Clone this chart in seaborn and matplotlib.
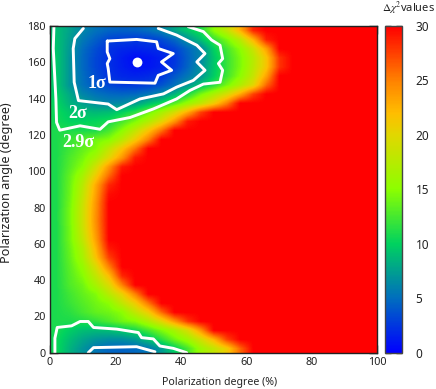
import numpy as np
import pandas as pd
import matplotlib
matplotlib.use("Agg")
import matplotlib.pyplot as plt
from matplotlib.colors import LinearSegmentedColormap
import seaborn as sns

# Delta chi^2 per angle bin (row) and polarization bin (column). Trailing bins are saturated.
SAT = 30
P_CENTRES = list(range(2, 100, 4))
A_CENTRES = [2.5 + 5 * i for i in range(36)]
a002 = [10.5, 8.5, 7, 5.5, 4.7, 4.5, 4.8, 5.5, 7.3, 9.8, 12.5, 16, 18.2, 21, 26]
a007 = [10.5, 9, 7.8, 7, 6.6, 6.6, 7.2, 9, 11.5, 14, 16, 19, 22.5, 27.5]
a012 = [10.8, 9.8, 9, 8.8, 9, 9.6, 10.7, 12.5, 14.5, 16.5, 19.4, 24]
a017 = [11, 11, 11.2, 11.8, 12.8, 14, 14.8, 17, 20, 24, 28]
a022 = [11, 11.5, 12.5, 13.5, 14, 15, 18, 21, 26]
a027 = [11, 12, 13, 14, 15, 18, 21, 25.5]
a032 = [11, 12.3, 13.5, 14.6, 17.5, 20.5, 25]
a037 = [11, 12.8, 14, 16.5, 19.6, 25]
a042 = [11, 13, 14.8, 18, 22, 28.5]
a047 = [11, 13.2, 15.5, 19.5, 25]
a052 = [11, 13.5, 16.5, 21.5, 27.5]
a057 = [11, 13.7, 17, 22.5, 29]
a062 = [11, 14, 18, 23.5]
a067 = [11, 14, 18.5, 24]
a072 = [11, 14.2, 18.7, 24.3]
a077 = [11, 14.2, 18.7, 24.2]
a082 = [11, 14, 18.5, 24]
a087 = [11, 13.8, 18, 23.5, 29.5]
a092 = [11, 13.7, 17.5, 23, 28.5]
a097 = [11, 13.5, 16.5, 21, 26]
a102 = [11, 13, 15, 19, 24, 29]
a107 = [11, 12.7, 14.2, 16.5, 20, 24, 29]
a112 = [11, 12.2, 13.5, 14.7, 18, 21.5, 25.5]
a117 = [11, 12, 13, 14, 14.8, 17.5, 21, 25]
a122 = [11, 11, 11, 11, 12.5, 15, 18, 21.5, 25.5]
a127 = [10.6, 10, 10, 10.3, 10.8, 12.5, 14.5, 17, 20, 24, 29]
a132 = [10.5, 9.5, 9, 8.8, 9, 10, 11.5, 13.8, 16.5, 19.3, 23, 27.5]
a137 = [10.2, 8.5, 7.5, 6.6, 6.2, 6.5, 7.3, 9, 10.5, 13, 15.7, 18, 21, 25]
a142 = [9.8, 8, 6.2, 5.3, 4.8, 4.6, 4.8, 5.4, 6.5, 8.5, 11, 14.3, 16.8, 19.4, 23, 27.5]
a147 = [9.5, 7, 5.2, 4, 3.2, 2.7, 2.6, 3, 3.8, 5.2, 7, 9.3, 11.5, 14.2, 17, 20, 26]
a152 = [9.5, 7, 5, 3.5, 2.3, 1.8, 1.6, 1.9, 2.4, 4, 5.5, 7, 9.8, 12.3, 15, 18.3, 23.3]
a157 = [9.5, 7, 4.8, 3.2, 2.2, 1.4, 0.8, 1, 1.6, 2.6, 4.6, 6.8, 9.5, 12, 14.4, 17.6, 21.5, 28]
a162 = [9.5, 7, 4.8, 3.2, 2.2, 1.3, 0.6, 0.9, 1.5, 2.4, 4.4, 6.3, 9.4, 12, 14.4, 17.4, 21.5, 28]
a167 = [9.3, 7.2, 5, 3.5, 2.3, 1.8, 1.6, 1.8, 2.1, 3, 4.7, 6.2, 10, 12.5, 15, 18.6, 23.5]
a172 = [9.2, 7.4, 5.6, 4.3, 3.1, 2.8, 2.6, 2.8, 3.4, 4.7, 6.8, 9, 11.8, 14.3, 17.5, 22.5, 28.8]
a177 = [9, 7.7, 6.2, 5.2, 4.6, 4.4, 4.5, 5, 6, 7.8, 9.5, 11, 15, 18, 22.5, 28.5]
ROWS = [a002, a007, a012, a017, a022, a027, a032, a037, a042, a047, a052, a057,
        a062, a067, a072, a077, a082, a087, a092, a097, a102, a107, a112, a117,
        a122, a127, a132, a137, a142, a147, a152, a157, a162, a167, a172, a177]

# Confidence contours (polarization %, angle in degrees)
sig29_top_p = [42.3, 46.9, 49.4, 52, 52.8, 51.5, 52.8, 52, 46.9, 42.8, 38.7, 31.6, 24.5, 17.8, 15.3, 9.2, 3, 2, 1.8, 1, 1.2]
sig29_top_a = [179.6, 176.9, 172.3, 169.4, 162, 159.3, 155.6, 149, 148, 144.5, 139.8, 134.3, 129.6, 127.2, 123.1, 125, 122.6, 126.9, 139.8, 167.6, 179.6]
sig2_top_p = [10.2, 7.6, 7.1, 7.4, 8.7, 17.8, 20.4, 27.5, 34.7, 38.7, 43.8, 47.4, 44.9, 47.4, 44.9, 38.7, 33.1]
sig2_top_a = [178.7, 173.1, 167.6, 149, 138.9, 137, 133.9, 139.8, 142.6, 146.3, 150, 155.6, 160.2, 164.8, 169.4, 175, 178.7]
sig1_p = [17.5, 26.5, 32.6, 33.1, 37.7, 34.1, 37.2, 33.1, 32.1, 18.3, 17.8, 17.5, 18.3, 17.5, 17.5]
sig1_a = [171.7, 172.6, 171.3, 167.6, 164.8, 160.2, 155.6, 152.8, 148.5, 149.1, 156.5, 159.3, 162, 165.7, 171.7]
sig29_low_p = [1.5, 1.5, 2.2, 6.6, 9.2, 11.7, 13.3, 20.4, 27, 28, 31.6, 33.6, 37.7, 41.8]
sig29_low_a = [0, 8, 13.9, 14.8, 17.2, 17.2, 13.9, 13, 11.1, 8.3, 7.6, 3.7, 2.4, 0]
sig2_low_p = [11.7, 13.3, 26.5, 32.1]
sig2_low_a = [0, 2.8, 3.3, 0.5]
best_p = [26.5]
best_a = [160]

P_TICKS = [0, 20, 40, 60, 80, 100]
A_TICKS = [0, 20, 40, 60, 80, 100, 120, 140, 160, 180]
CB_TICKS = [0, 5, 10, 15, 20, 25, 30]

sns.set_theme(style="white")
plt.rcParams["font.family"] = ["Noto Sans", "DejaVu Sans"]
plt.rcParams["mathtext.fontset"] = "stix"
INK = "#222222"
P_BIN, A_BIN = 4, 5

table = pd.DataFrame([r + [SAT] * (len(P_CENTRES) - len(r)) for r in ROWS],
                     index=A_CENTRES, columns=P_CENTRES)

cmap = LinearSegmentedColormap.from_list("chi", [
    (0 / 30, (0, 0, 1)),
    (5 / 30, (0, 110 / 255, 190 / 255)),
    (10 / 30, (0, 210 / 255, 95 / 255)),
    (15 / 30, (140 / 255, 1, 0)),
    (20 / 30, (225 / 255, 215 / 255, 0)),
    (22 / 30, (1, 190 / 255, 0)),
    (25 / 30, (1, 130 / 255, 0)),
    (30 / 30, (1, 0, 0)),
], N=256)

W, H = 436, 389
fig = plt.figure(figsize=(W / 100, H / 100), dpi=100)
ax = fig.add_axes([50 / W, 1 - 352.7 / H, 327 / W, 326.7 / H])
cax = fig.add_axes([385 / W, 1 - 352.7 / H, 16.7 / W, 326.7 / H])

sns.heatmap(table, cmap=cmap, vmin=0, vmax=30, ax=ax, cbar_ax=cax,
            xticklabels=False, yticklabels=False, cbar_kws={"ticks": CB_TICKS})
# Smooth the cells the way the reference's resampled bitmap is smoothed
ax.imshow(table.to_numpy(), cmap=cmap, vmin=0, vmax=30, origin="lower", aspect="auto",
          interpolation="bilinear", extent=(0, len(P_CENTRES), 0, len(A_CENTRES)), zorder=1.5)

def curve(p, a):
    sns.lineplot(x=np.array(p) / P_BIN, y=np.array(a) / A_BIN, sort=False, estimator=None,
                 color="white", linewidth=2.1, ax=ax, legend=False, zorder=3,
                 solid_capstyle="round", solid_joinstyle="round")

curve(sig29_top_p, sig29_top_a)
curve(sig2_top_p, sig2_top_a)
curve(sig1_p, sig1_a)
curve(sig29_low_p, sig29_low_a)
curve(sig2_low_p, sig2_low_a)
sns.scatterplot(x=np.array(best_p) / P_BIN, y=np.array(best_a) / A_BIN, color="white",
                s=50, linewidth=0, ax=ax, legend=False, zorder=5)

ax.set_ylim(0, len(A_CENTRES))
ax.set_xlim(0, len(P_CENTRES))

for s, xp, ya in [("1σ", 97, 83), ("2σ", 78, 113), ("2.9σ", 78, 142)]:
    fig.text(xp / W, 1 - ya / H, s, color="white", fontsize=13, ha="center", va="center",
             family="Liberation Serif", fontweight="bold")

ax.set_xticks(np.array(P_TICKS) / P_BIN, labels=[str(v) for v in P_TICKS])
ax.set_yticks(np.array(A_TICKS) / A_BIN, labels=[str(v) for v in A_TICKS], rotation=0)
ax.tick_params(direction="in", length=6, width=1, color=INK, labelcolor=INK, labelsize=7.8,
               top=True, right=True, bottom=True, left=True, pad=3)
ax.set_xlabel("Polarization degree (%)", fontsize=7.6, color=INK, visible=True, va="center")
ax.set_ylabel("Polarization angle (degree)", fontsize=9.1, color=INK, visible=True, va="center")
ax.xaxis.set_label_coords((220 - 50) / 327, (352.7 - 383) / 326.7)
ax.yaxis.set_label_coords((7 - 50) / 327, (352.7 - 182.5) / 326.7)
for sp in ax.spines.values():
    sp.set_visible(True)
    sp.set_color(INK)
    sp.set_linewidth(1)
    sp.set_zorder(6)

cbar = ax.collections[0].colorbar
cbar.outline.set_visible(True)
cbar.outline.set_edgecolor("#444444")
cbar.outline.set_linewidth(1)
cax.tick_params(direction="in", length=4, width=1, color=INK, labelcolor=INK, labelsize=8.5,
                left=True, right=True, pad=10)
cax.yaxis.set_ticks_position("both")
cax.yaxis.set_tick_params(labelleft=False, labelright=True)
fig.text(408 / W, 1 - 8 / H, r"$\Delta\chi^{2}$values", fontsize=8, color=INK, ha="center", va="center")

fig.savefig("out.png", dpi=100)
